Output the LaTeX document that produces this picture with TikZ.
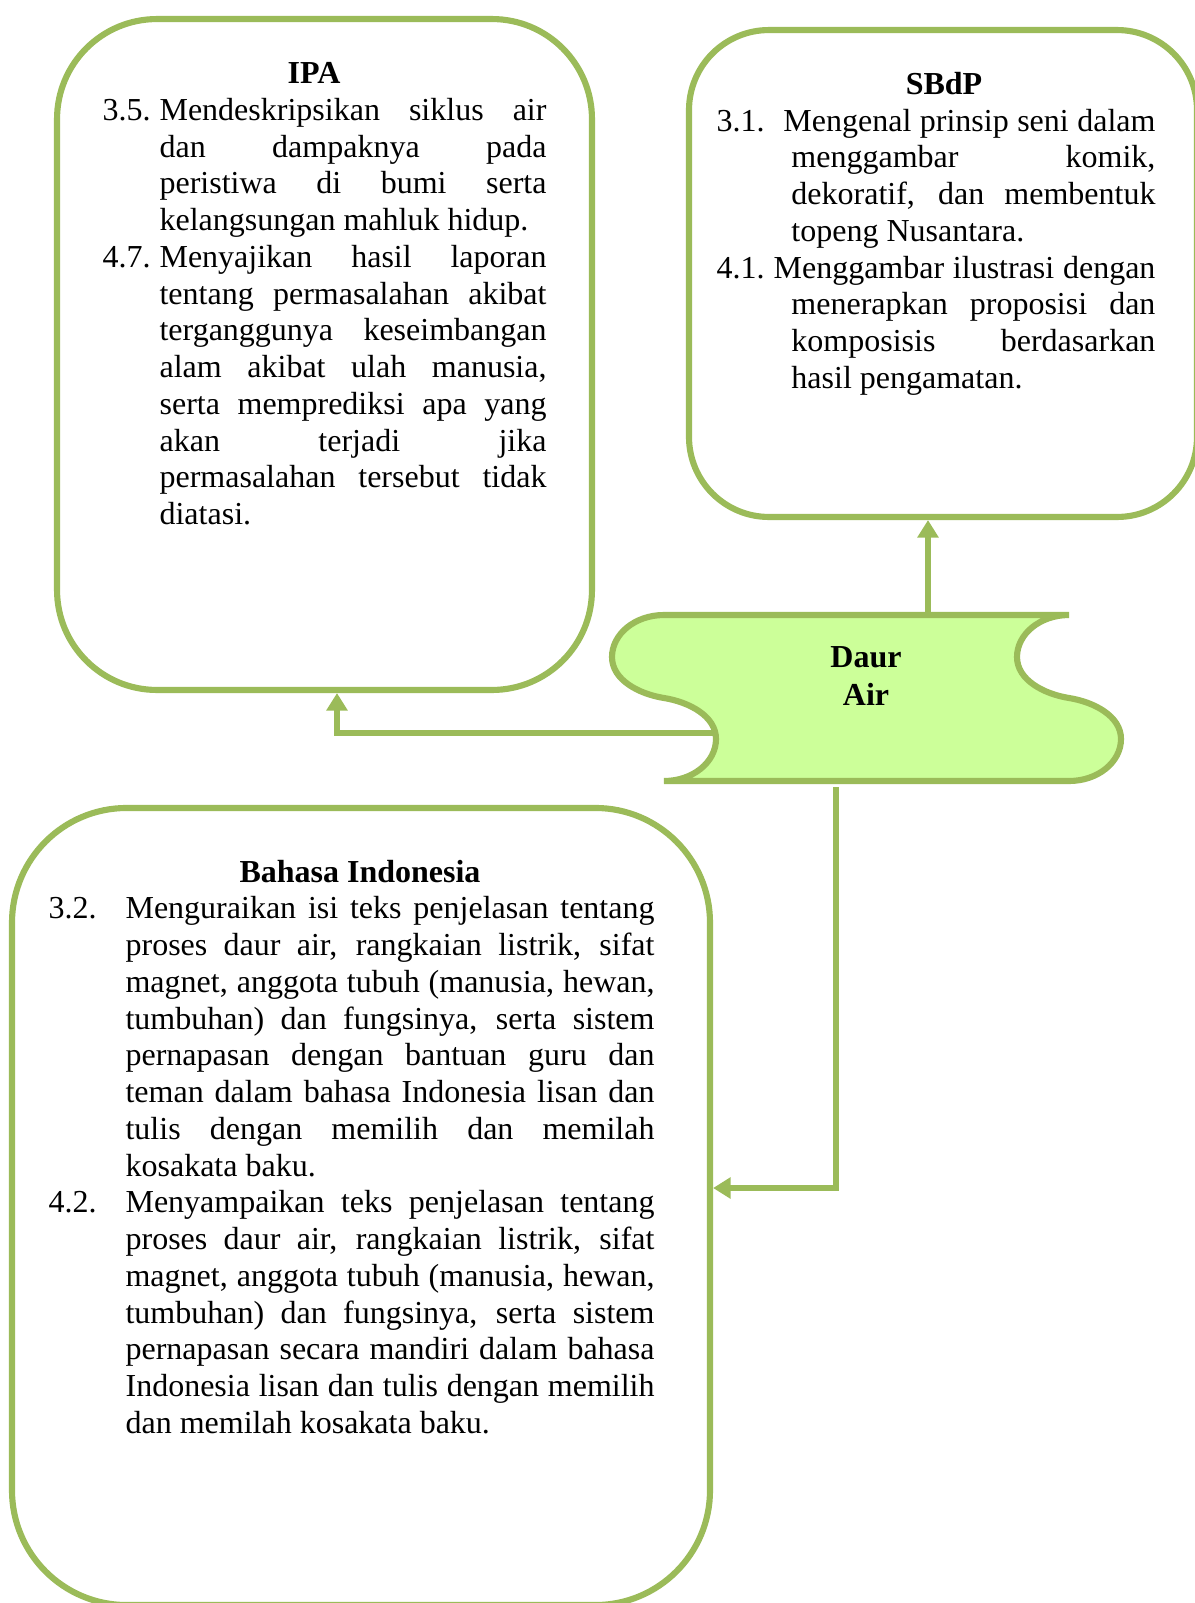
\documentclass[tikz,border=0pt]{standalone}
\usepackage{fontspec}
\setmainfont{Liberation Serif}
\usetikzlibrary{arrows.meta}
\definecolor{accgreen}{HTML}{9BBB59}
\definecolor{scrollfill}{HTML}{CCFF99}
\newlength\Tw
\newlength\Hg
\newcommand\ItF[3]{\makebox[#1][l]{#2}\makebox[\dimexpr\Tw-#1\relax][s]{#3}\par}
\newcommand\ItM[1]{\hspace*{\Hg}\makebox[\dimexpr\Tw-\Hg\relax][s]{#1}\par}
\newcommand\ItL[1]{\hspace*{\Hg}#1\par}
\newcommand\basefont{\fontsize{12}{13.78}\selectfont}
\tikzset{
  panel/.style={draw=accgreen, line width=2.3pt, rectangle, inner sep=0pt},
  title/.style={anchor=base, inner sep=0pt, font=\basefont\bfseries},
  body/.style={anchor=base west, inner sep=0pt, font=\basefont},
  conn/.style={draw=accgreen, line width=2.3pt, -{Triangle[length=6.6pt,width=7.7pt]}},
  scroll/.style={draw=accgreen, fill=scrollfill, line width=2.3pt}
}
\begin{document}
\begin{tikzpicture}[x=0.375pt, y=-0.375pt, font=\basefont]
\useasboundingbox (0,0) rectangle (1195,1603);

% panels
\node[panel, minimum width=200.6pt, minimum height=251.6pt, rounded corners=37.5pt] (ipa) at (324.5,354.5) {};
\node[panel, minimum width=190.5pt, minimum height=182.6pt, rounded corners=30pt] (sbdp) at (943,273.5) {};
\node[panel, minimum width=261.75pt, minimum height=298.9pt, rounded corners=43pt] (bah) at (361,1206.5) {};

% IPA text
\node[title] (ipatitle) at (314,83.5) {IPA};
\node[body] (ipabody) at (102,120.3) {\setlength\Tw{166.5pt}\setlength\Hg{21.4pt}%
\parbox[t]{\Tw}{\setlength\parindent{0pt}%
\ItF{\Hg}{3.5.}{Mendeskripsikan siklus air}
\ItM{dan dampaknya pada}
\ItM{peristiwa di bumi serta}
\ItL{kelangsungan mahluk hidup.}
\ItF{\Hg}{4.7.}{Menyajikan hasil laporan}
\ItM{tentang permasalahan akibat}
\ItM{terganggunya keseimbangan}
\ItM{alam akibat ulah manusia,}
\ItM{serta memprediksi apa yang}
\ItM{akan terjadi jika}
\ItM{permasalahan tersebut tidak}
\ItL{diatasi.}}};

% SBdP text
\node[title] (sbdptitle) at (944,94.8) {SBdP};
\node[body] (sbdpbody) at (716,131.2) {\setlength\Tw{164.6pt}\setlength\Hg{28.1pt}%
\parbox[t]{\Tw}{\setlength\parindent{0pt}%
\ItF{25.1pt}{3.1.}{Mengenal prinsip seni dalam}
\ItM{menggambar komik,}
\ItM{dekoratif, dan membentuk}
\ItL{topeng Nusantara.}
\ItF{21.4pt}{4.1.}{Menggambar ilustrasi dengan}
\ItM{menerapkan proposisi dan}
\ItM{komposisis berdasarkan}
\ItL{hasil pengamatan.}}};

% Bahasa Indonesia text
\node[title] (bahtitle) at (360,882.2) {Bahasa Indonesia};
\node[body] (bahbody) at (48,918.8) {\setlength\Tw{227.25pt}\setlength\Hg{28.9pt}%
\parbox[t]{\Tw}{\setlength\parindent{0pt}%
\ItF{\Hg}{3.2.}{Menguraikan isi teks penjelasan tentang}
\ItM{proses daur air, rangkaian listrik, sifat}
\ItM{magnet, anggota tubuh (manusia, hewan,}
\ItM{tumbuhan) dan fungsinya, serta sistem}
\ItM{pernapasan dengan bantuan guru dan}
\ItM{teman dalam bahasa Indonesia lisan dan}
\ItM{tulis dengan memilih dan memilah}
\ItL{kosakata baku.}
\ItF{\Hg}{4.2.}{Menyampaikan teks penjelasan tentang}
\ItM{proses daur air, rangkaian listrik, sifat}
\ItM{magnet, anggota tubuh (manusia, hewan,}
\ItM{tumbuhan) dan fungsinya, serta sistem}
\ItM{pernapasan secara mandiri dalam bahasa}
\ItM{Indonesia lisan dan tulis dengan memilih}
\ItL{dan memilah kosakata baku.}}};

% central scroll (punched tape)
\draw[scroll] (664,615) -- (1069,615)
  .. controls (1040,615) and (1017,634) .. (1017,657)
  .. controls (1017,680) and (1044,694) .. (1069,698)
  .. controls (1094,702) and (1121,716) .. (1121,739)
  .. controls (1121,762) and (1098,781) .. (1069,781)
  -- (664,781)
  .. controls (693,781) and (716,762) .. (716,739)
  .. controls (716,716) and (689,702) .. (664,698)
  .. controls (639,694) and (612,680) .. (612,657)
  .. controls (612,634) and (635,615) .. (664,615) -- cycle;
\node[anchor=base, inner sep=0pt, font=\basefont\bfseries] (daur) at (866,667)
  {\begin{tabular}[t]{@{}c@{}}Daur\\[0.5pt]Air\end{tabular}};

% connector end points on the scroll
\coordinate (dtop) at (928,615);
\coordinate (dleft) at (713,733);
\coordinate (dbot) at (836,787);
\coordinate (ipax) at (337,0);
\coordinate (bahy) at (0,1188);

% connectors
\draw[conn] (dtop) -- (dtop |- sbdp.south);
\draw[conn] (dleft) -| (ipax |- ipa.south);
\draw[conn] (dbot) |- (bah.east |- bahy);
\end{tikzpicture}
\end{document}
